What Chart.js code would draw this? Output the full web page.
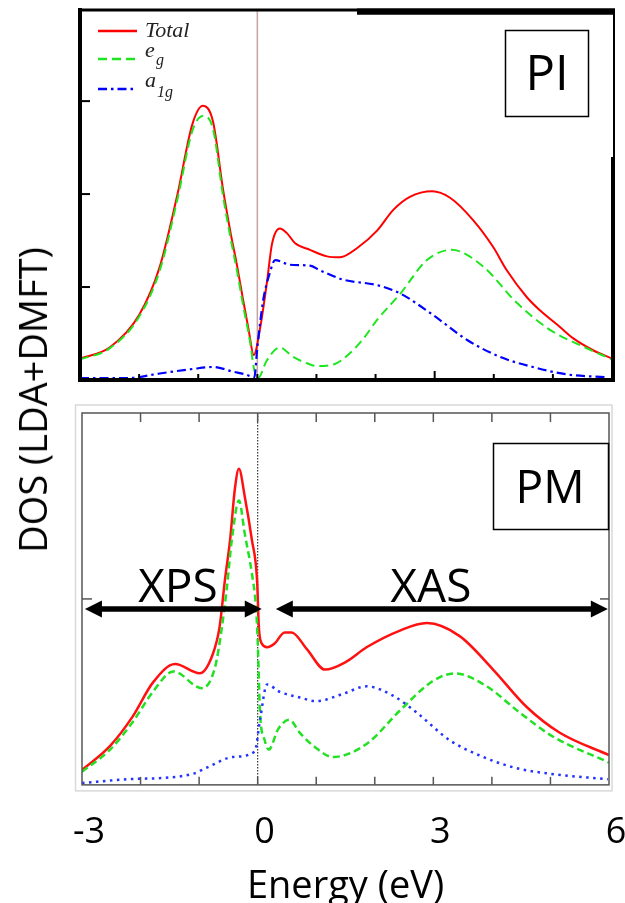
<!DOCTYPE html>
<html>
<head>
<meta charset="utf-8">
<script src="https://cdn.jsdelivr.net/npm/chart.js@4/dist/chart.umd.min.js"></script>
<style>
	html, body { margin: 0; padding: 0; background: #fff; overflow: hidden; width: 625px; height: 903px; }
	#chart-pi { position: absolute; left: 0; top: 0; }
	#chart-pm { position: absolute; left: 0; top: 395px; }
	#y-title {
		position: absolute; left: 32px; top: 400px;
		transform: translate(-50%, -50%) rotate(-90deg);
		font: 38px "Open Sans"; white-space: nowrap; color: #000;
	}
</style>
</head>
<body>
<canvas id="chart-pi" width="625" height="395"></canvas>
<canvas id="chart-pm" width="625" height="520"></canvas>
<div id="y-title">DOS (LDA+DMFT)</div>
<script>
// ----------------------------------------------
// Data (energy in eV, DOS in arbitrary units)
// ----------------------------------------------
// PI panel (top)
const piTotalE = [-3, -2.5, -2.0, -1.65, -1.35, -1.1, -0.92, -0.75, -0.58, -0.46, -0.34, -0.24, -0.15, -0.06, 0.05, 0.16, 0.25, 0.38, 0.5, 0.64, 0.89, 1.18, 1.4, 1.69, 2.03, 2.3, 2.58, 2.96, 3.26, 3.65, 3.99, 4.22, 4.56, 4.78, 5.12, 5.34, 5.68, 6.0];
const piTotal = [0.23, 0.35, 0.70, 1.22, 2.0, 2.75, 2.95, 2.78, 2.05, 1.61, 1.22, 0.86, 0.55, 0.27, 0.57, 1.04, 1.47, 1.63, 1.58, 1.47, 1.40, 1.33, 1.32, 1.42, 1.61, 1.83, 1.97, 2.03, 1.96, 1.72, 1.43, 1.18, 0.89, 0.75, 0.57, 0.45, 0.32, 0.23];

const piEgE = [-3, -2.5, -2.0, -1.65, -1.35, -1.1, -0.92, -0.75, -0.58, -0.46, -0.34, -0.24, -0.12, -0.06, 0.01, 0.16, 0.38, 0.6, 0.84, 1.0, 1.3, 1.57, 1.8, 2.03, 2.42, 2.87, 3.29, 3.82, 4.39, 4.95, 5.51, 6.0];
const piEg = [0.22, 0.34, 0.68, 1.18, 1.95, 2.68, 2.84, 2.70, 1.98, 1.55, 1.16, 0.80, 0.40, 0.13, 0.02, 0.21, 0.35, 0.25, 0.18, 0.15, 0.17, 0.29, 0.45, 0.65, 0.93, 1.29, 1.40, 1.22, 0.83, 0.54, 0.36, 0.22];

const piA1gE = [-3, -2.2, -1.65, -1.08, -0.75, -0.41, -0.2, -0.05, 0.0, 0.1, 0.21, 0.3, 0.55, 0.89, 1.06, 1.45, 2.03, 2.42, 2.97, 3.55, 4.1, 4.66, 5.24, 5.9];
const piA1g = [0.02, 0.02, 0.07, 0.12, 0.14, 0.09, 0.06, 0.03, 0.35, 0.86, 1.15, 1.29, 1.24, 1.23, 1.18, 1.08, 1.02, 0.93, 0.70, 0.43, 0.25, 0.14, 0.06, 0.03];

// PM panel (bottom)
const pmTotalE = [-3, -2.52, -2.13, -1.79, -1.41, -0.99, -0.77, -0.65, -0.56, -0.47, -0.39, -0.32, -0.22, -0.10, -0.01, 0.02, 0.07, 0.16, 0.29, 0.46, 0.58, 0.84, 1.15, 1.5, 1.86, 2.43, 2.89, 3.45, 4.02, 4.59, 5.16, 6.0];
const pmTotal = [0.08, 0.21, 0.37, 0.55, 0.65, 0.60, 0.70, 0.85, 1.10, 1.32, 1.59, 1.70, 1.55, 1.32, 1.10, 0.85, 0.76, 0.74, 0.76, 0.82, 0.82, 0.73, 0.62, 0.66, 0.74, 0.83, 0.87, 0.80, 0.62, 0.42, 0.28, 0.16];

const pmEgE = [-3, -2.52, -2.13, -1.79, -1.44, -0.95, -0.73, -0.61, -0.53, -0.44, -0.32, -0.22, -0.10, -0.03, 0.0, 0.04, 0.12, 0.19, 0.35, 0.54, 0.72, 0.95, 1.29, 1.86, 2.43, 3.0, 3.37, 3.91, 4.47, 5.04, 6.0];
const pmEg = [0.07, 0.19, 0.34, 0.50, 0.61, 0.52, 0.63, 0.85, 1.05, 1.32, 1.53, 1.35, 1.14, 0.96, 0.78, 0.39, 0.24, 0.19, 0.30, 0.35, 0.28, 0.21, 0.15, 0.22, 0.40, 0.56, 0.60, 0.53, 0.39, 0.26, 0.12];

const pmA1gE = [-3, -2.23, -1.5, -1.1, -0.82, -0.42, -0.05, 0.04, 0.16, 0.38, 0.72, 1.0, 1.46, 1.86, 2.31, 2.71, 3.28, 3.85, 4.42, 4.99, 5.98];
const pmA1g = [0.01, 0.03, 0.04, 0.06, 0.10, 0.15, 0.18, 0.35, 0.54, 0.50, 0.47, 0.45, 0.49, 0.53, 0.48, 0.39, 0.24, 0.15, 0.09, 0.06, 0.03];

// axes
const xTickValues = [-3, 0, 3, 6];
const piYTicks = [1, 2, 3];
const pmYTicks = [1];

// spectroscopy ranges (eV) shown as arrows in the PM panel
const xpsRange = [-2.95, 0.07];
const xasRange = [0.31, 5.98];

// ----------------------------------------------
// Helpers
// ----------------------------------------------
const FONT = "Open Sans";
const toPoints = (xs, ys) => xs.map((x, i) => ({ x, y: ys[i] }));

const seg = (ctx, x1, y1, x2, y2) => {
	ctx.beginPath();
	ctx.moveTo(x1, y1);
	ctx.lineTo(x2, y2);
	ctx.stroke();
};

const arrow = (ctx, x1, x2, y, left, right) => {
	const head = 17, half = 8.5;
	ctx.lineWidth = 5.5;
	seg(ctx, x1 + (left ? head - 2 : 0), y, x2 - (right ? head - 2 : 0), y);
	ctx.beginPath();
	if (left) { ctx.moveTo(x1, y); ctx.lineTo(x1 + head, y - half); ctx.lineTo(x1 + head, y + half); ctx.closePath(); }
	if (right) { ctx.moveTo(x2, y); ctx.lineTo(x2 - head, y - half); ctx.lineTo(x2 - head, y + half); ctx.closePath(); }
	ctx.fill();
};

const lineDataset = (label, pts, color, width, dash, order) => ({
	label,
	data: pts,
	borderColor: color,
	borderWidth: width,
	borderDash: dash,
	pointRadius: 0,
	fill: false,
	cubicInterpolationMode: "monotone",
	order,
});

const baseOptions = (yMax, padding) => ({
	responsive: false,
	animation: false,
	devicePixelRatio: 1,
	layout: { padding },
	plugins: { legend: { display: false }, tooltip: { enabled: false }, title: { display: false } },
	scales: {
		x: { type: "linear", min: -3, max: 6, display: false },
		y: { type: "linear", min: 0, max: yMax, display: false },
	},
});

// ----------------------------------------------
// PI panel
// ----------------------------------------------
const piDecor = {
	id: "piDecor",
	beforeDatasetsDraw(chart) {
		const { ctx, chartArea: a, scales: { x } } = chart;
		ctx.save();
		ctx.strokeStyle = "#c9a2a2";
		ctx.lineWidth = 1.5;
		const x0 = x.getPixelForValue(0);
		seg(ctx, x0, a.top, x0, a.bottom);
		ctx.restore();
	},
	afterDraw(chart) {
		const { ctx, chartArea: a, scales: { x, y } } = chart;
		ctx.save();
		ctx.strokeStyle = "#000";
		ctx.fillStyle = "#000";

		// inward ticks
		ctx.lineWidth = 2;
		for (let e = -2; e <= 5; e++) {
			const px = x.getPixelForValue(e);
			seg(ctx, px, a.bottom, px, a.bottom - (e === 3 ? 9 : 6));
		}
		piYTicks.forEach((v) => {
			const py = y.getPixelForValue(v);
			seg(ctx, a.left, py, a.left + 10, py);
		});

		// frame (heavy left / bottom, mixed top / right)
		ctx.lineWidth = 4;
		seg(ctx, a.left, a.top - 2, a.left, a.bottom + 2);
		seg(ctx, a.left - 2, a.bottom, a.right + 2, a.bottom);
		seg(ctx, a.right + 1, 157, a.right + 1, a.bottom + 2);
		ctx.lineWidth = 3;
		seg(ctx, a.left - 2, a.top, 357, a.top);
		ctx.lineWidth = 6.5;
		seg(ctx, 357, a.top + 1.5, a.right + 3, a.top + 1.5);
		ctx.lineWidth = 2;
		seg(ctx, a.right + 2, a.top, a.right + 2, 157);

		// legend
		const lx = a.left + 18, lw = 39;
		ctx.lineWidth = 2.5;
		ctx.strokeStyle = "#ff0000";
		seg(ctx, lx, 31, lx + lw, 31);
		ctx.strokeStyle = "#1ee61e";
		ctx.setLineDash([9, 5]);
		seg(ctx, lx, 59, lx + lw, 59);
		ctx.strokeStyle = "#0000ff";
		ctx.setLineDash([9, 4, 2.5, 4]);
		seg(ctx, lx, 89, lx + lw, 89);
		ctx.setLineDash([]);

		ctx.fillStyle = "#222";
		ctx.textAlign = "left";
		ctx.textBaseline = "alphabetic";
		ctx.font = "italic 22px 'Liberation Serif'";
		ctx.fillText("Total", 145, 37);
		ctx.fillText("e", 145, 57);
		ctx.fillText("a", 145, 87);
		ctx.font = "italic 16px 'Liberation Serif'";
		ctx.fillText("g", 156, 65);
		ctx.fillText("1g", 157, 97);

		// PI label box
		ctx.strokeStyle = "#000";
		ctx.lineWidth = 1.5;
		ctx.strokeRect(505.5, 30.5, 83, 86);
		ctx.fillStyle = "#000";
		ctx.textAlign = "center";
		ctx.font = `49px '${FONT}'`;
		ctx.fillText("PI", 547, 90);
		ctx.restore();
	},
};

new Chart(document.getElementById("chart-pi"), {
	type: "line",
	data: {
		datasets: [
			lineDataset("Total", toPoints(piTotalE, piTotal), "#ff0000", 2, [], 3),
			lineDataset("eg", toPoints(piEgE, piEg), "#1ee61e", 2, [9, 5], 2),
			lineDataset("a1g", toPoints(piA1gE, piA1g), "#0000ff", 2.2, [9, 4, 2.5, 4], 1),
		],
	},
	options: baseOptions(3.98, { left: 80, right: 13, top: 10, bottom: 15 }),
	plugins: [piDecor],
});

// ----------------------------------------------
// PM panel
// ----------------------------------------------
const pmDecor = {
	id: "pmDecor",
	beforeDatasetsDraw(chart) {
		const { ctx, chartArea: a, scales: { x } } = chart;
		ctx.save();
		// light outer border of the inset picture
		ctx.strokeStyle = "#d9d9d9";
		ctx.lineWidth = 1.5;
		ctx.strokeRect(a.left - 6.5, a.top - 8, a.right - a.left + 9.5, a.bottom - a.top + 14);
		// Fermi level
		ctx.strokeStyle = "#333";
		ctx.lineWidth = 1.2;
		ctx.setLineDash([1.5, 1.5]);
		const x0 = x.getPixelForValue(0);
		seg(ctx, x0, a.top, x0, a.bottom);
		ctx.restore();
	},
	afterDatasetsDraw(chart) {
		const { ctx, chartArea: a, scales: { x, y } } = chart;
		ctx.save();
		ctx.strokeStyle = "#555";
		ctx.lineWidth = 1.5;
		ctx.strokeRect(a.left, a.top, a.right - a.left, a.bottom - a.top);
		for (let e = -2; e <= 5; e++) {
			const px = x.getPixelForValue(e);
			seg(ctx, px, a.top, px, a.top + 9);
			seg(ctx, px, a.bottom, px, a.bottom - 8);
		}
		pmYTicks.forEach((v) => {
			const py = y.getPixelForValue(v);
			seg(ctx, a.left, py, a.left + 10, py);
			seg(ctx, a.right, py, a.right - 9, py);
		});

		// XPS / XAS arrows and labels
		ctx.strokeStyle = "#000";
		ctx.fillStyle = "#000";
		const ay = y.getPixelForValue(0.946);
		arrow(ctx, x.getPixelForValue(xpsRange[0]), x.getPixelForValue(xpsRange[1]), ay, true, true);
		arrow(ctx, x.getPixelForValue(xasRange[0]), x.getPixelForValue(xasRange[1]), ay, true, true);
		ctx.font = `46px '${FONT}'`;
		ctx.textAlign = "center";
		ctx.textBaseline = "alphabetic";
		const ty = y.getPixelForValue(0.984);
		ctx.fillText("XPS", x.getPixelForValue(-1.36), ty);
		ctx.fillText("XAS", x.getPixelForValue(2.96), ty);

		// PM label box
		ctx.lineWidth = 1.5;
		ctx.strokeRect(493.5, 443 - 395 + 0.5, 115, 86);
		ctx.fillText("PM", 550, 503 - 395);
		ctx.restore();
	},
};

// the scale counts ticks.padding twice, so the label drop is set through lineHeight
const pmOptions = baseOptions(2.0, { left: 82, right: 16, top: 18, bottom: 21 });
pmOptions.scales.x = {
	type: "linear",
	min: -3,
	max: 6,
	display: true,
	grid: { display: false, drawTicks: false },
	border: { display: false },
	afterBuildTicks: (axis) => {
		axis.ticks = xTickValues.map((v) => ({ value: v }));
	},
	ticks: {
		font: { family: FONT, size: 36, lineHeight: 2.47 },
		color: "#000",
		padding: 3,
		labelOffset: 7,
		maxRotation: 0,
		callback: (v) => String(v),
	},
	title: {
		display: true,
		text: "Energy (eV)",
		font: { family: FONT, size: 38, lineHeight: 0.374 },
		color: "#000",
		padding: { top: 0, bottom: 0 },
	},
};

new Chart(document.getElementById("chart-pm"), {
	type: "line",
	data: {
		datasets: [
			lineDataset("Total", toPoints(pmTotalE, pmTotal), "#ff1111", 2.5, [], 3),
			lineDataset("eg", toPoints(pmEgE, pmEg), "#22e022", 2.5, [7, 4], 2),
			lineDataset("a1g", toPoints(pmA1gE, pmA1g), "#2233ff", 2.5, [2.5, 4.5], 1),
		],
	},
	options: pmOptions,
	plugins: [pmDecor],
});
</script>
</body>
</html>
